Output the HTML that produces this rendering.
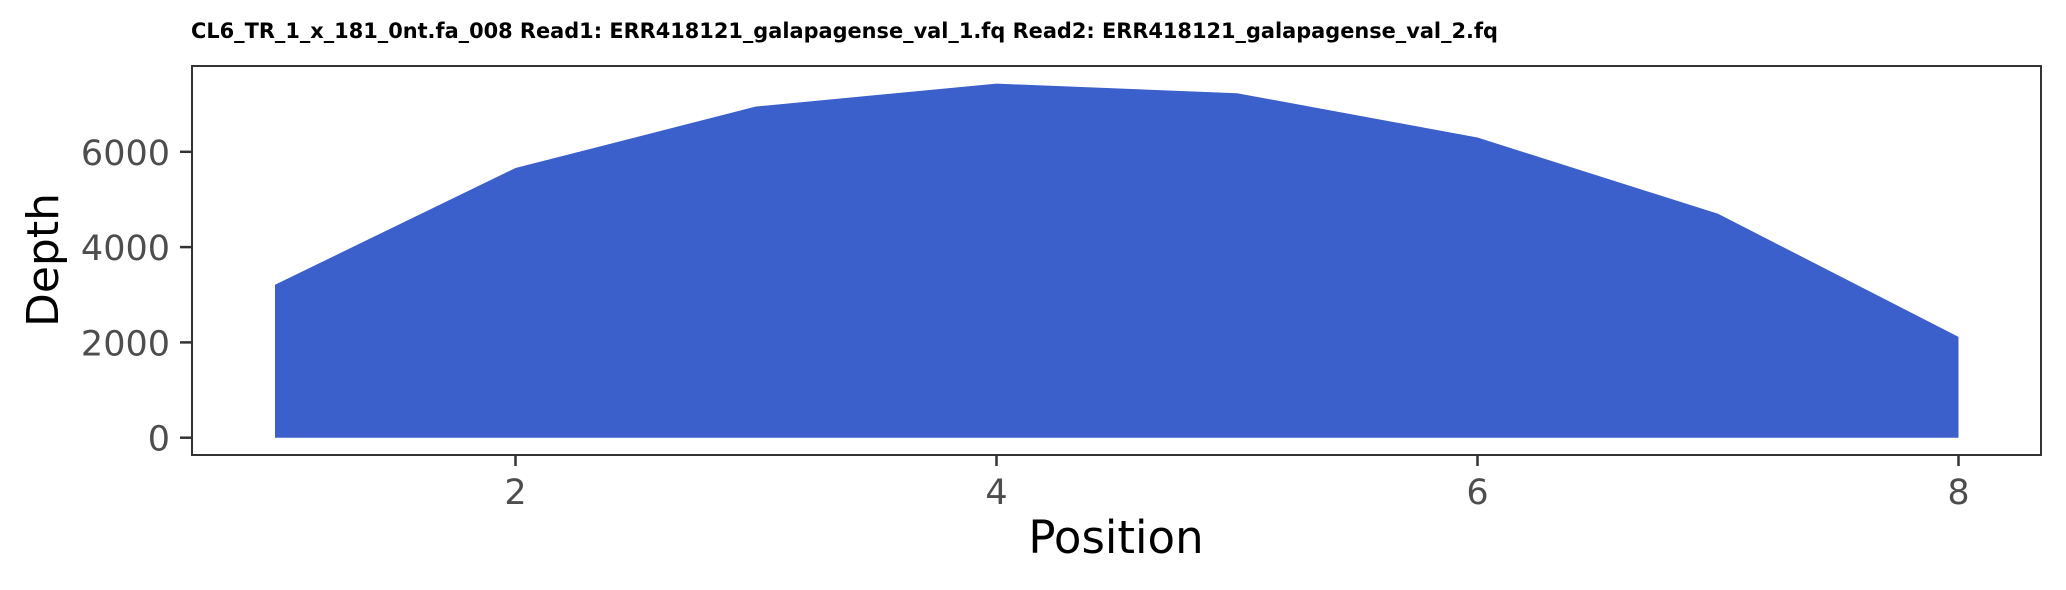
<!DOCTYPE html>
<html><head><meta charset="utf-8"><style>
html,body{margin:0;padding:0;background:#fff;}
svg{display:block;font-family:"DejaVu Sans","Liberation Sans",sans-serif;}
</style></head><body>
<svg id="chart" width="2066" height="590" viewBox="0 0 2066 590">
<text x="191" y="38" font-size="21" font-weight="bold" fill="#000" textLength="1307" lengthAdjust="spacingAndGlyphs">CL6_TR_1_x_181_0nt.fa_008 Read1: ERR418121_galapagense_val_1.fq Read2: ERR418121_galapagense_val_2.fq</text>
<g id="plot"></g>
<rect x="192" y="66" width="1849" height="389" fill="none" stroke="#333" stroke-width="2"/>
<text x="1116" y="553" font-size="45" text-anchor="middle" fill="#000">Position</text>
<text transform="translate(58,260) rotate(-90)" font-size="44" text-anchor="middle" fill="#000">Depth</text>
</svg>
<script>
const positions=[1,2,3,4,5,6,7,8];
const depths=[3210,5660,6950,7430,7230,6300,4700,2115];
const xTicks=[2,4,6,8];
const yTicks=[0,2000,4000,6000];
const NS='http://www.w3.org/2000/svg';
const sx=v=>275+(v-1)*240.5;
const sy=v=>437.7-v*0.047650;
const g=document.getElementById('plot');
let d='M'+sx(positions[0])+','+sy(0);
positions.forEach((p,i)=>{d+=' L'+sx(p)+','+sy(depths[i]);});
d+=' L'+sx(positions[positions.length-1])+','+sy(0)+' Z';
const area=document.createElementNS(NS,'path');
area.setAttribute('d',d);area.setAttribute('fill','#3b5fcb');


g.appendChild(area);
xTicks.forEach(t=>{
 const l=document.createElementNS(NS,'line');
 l.setAttribute('x1',sx(t));l.setAttribute('x2',sx(t));l.setAttribute('y1',455);l.setAttribute('y2',466);
 l.setAttribute('stroke','#333');l.setAttribute('stroke-width','2.5');
 
 
 g.appendChild(l);
 const tx=document.createElementNS(NS,'text');
 tx.setAttribute('x',sx(t));tx.setAttribute('y',504);tx.setAttribute('font-size','35');
 tx.setAttribute('text-anchor','middle');tx.setAttribute('fill','#4d4d4d');tx.textContent=t;
 
 
 g.appendChild(tx);
});
yTicks.forEach(t=>{
 const l=document.createElementNS(NS,'line');
 l.setAttribute('x1',180);l.setAttribute('x2',192);l.setAttribute('y1',sy(t));l.setAttribute('y2',sy(t));
 l.setAttribute('stroke','#333');l.setAttribute('stroke-width','2.5');
 
 
 g.appendChild(l);
 const tx=document.createElementNS(NS,'text');
 tx.setAttribute('x',170);tx.setAttribute('y',sy(t)+13);tx.setAttribute('font-size','35');
 tx.setAttribute('text-anchor','end');tx.setAttribute('fill','#4d4d4d');tx.textContent=t;
 
 
 g.appendChild(tx);
});
</script>
</body></html>
